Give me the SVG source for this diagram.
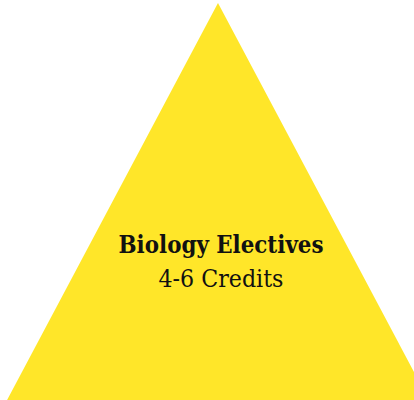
<svg xmlns="http://www.w3.org/2000/svg" width="414" height="400" viewBox="0 0 414 400">
<style>
.t{font-family:"DejaVu Serif","Liberation Serif",serif;fill:#111;text-anchor:middle}
</style>
<rect width="414" height="400" fill="#fff"/>
<g id="pyramid">
<polygon points="218,3 6,402 430,402" fill="#FFE629"/>
<text class="t" x="221" y="253" font-size="23.5" font-weight="bold" textLength="205" lengthAdjust="spacingAndGlyphs">Biology Electives</text>
<text class="t" x="221" y="287" font-size="23.5" textLength="125" lengthAdjust="spacingAndGlyphs">4-6 Credits</text>
</g>
</svg>
